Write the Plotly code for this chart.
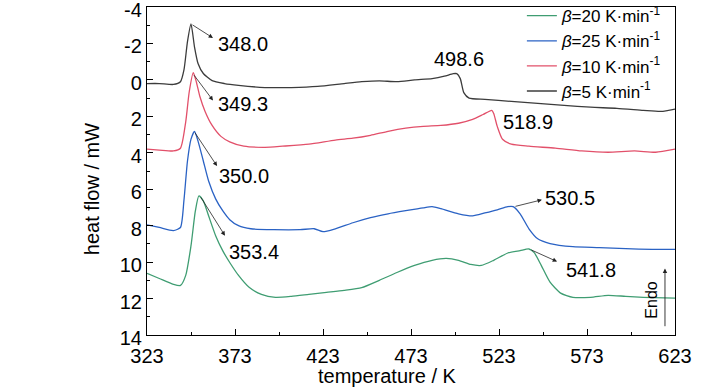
import plotly.graph_objects as go

# ---- data ----
t_b5 = [323, 330, 338, 342, 344, 346, 348, 350, 352, 355, 360, 367, 375, 390, 405, 420, 435, 445, 455, 465, 475,
        485, 492, 497, 499, 501, 503, 506, 515, 530, 545, 560, 575, 590, 605, 615, 623]
hf_b5 = [0.2, 0.2, 0.25, 0.1, -0.55, -2.1, -3.07, -1.8, -0.9, -0.35, 0.04, 0.2, 0.3, 0.42, 0.42, 0.36, 0.2, 0.1,
         0.05, 0.1, 0.0, -0.07, -0.2, -0.34, -0.34, -0.07, 0.7, 1.0, 1.07, 1.18, 1.29, 1.4, 1.5, 1.56, 1.67, 1.73, 1.6]

t_b10 = [323, 330, 338, 342, 345, 347, 349.3, 351, 353, 356, 360, 365, 370, 378, 390, 400, 415, 430, 440, 450, 460,
         470, 480, 490, 500, 508, 514, 518.9, 520, 522, 525, 530, 540, 555, 570, 585, 600, 612, 623]
hf_b10 = [3.8, 3.85, 3.9, 3.75, 2.3, 0.65, -0.4, 0.1, 0.9, 1.73, 2.5, 3.1, 3.4, 3.64, 3.7, 3.64, 3.53, 3.3, 3.2,
          3.04, 2.82, 2.65, 2.55, 2.5, 2.38, 2.17, 1.9, 1.67, 1.85, 2.55, 3.26, 3.53, 3.64, 3.75, 3.9, 3.97, 3.9, 3.97, 3.8]

t_b25 = [323, 330, 338, 342, 344, 346, 348, 350, 352, 355, 358, 362, 366, 370, 375, 382, 395, 410, 418, 423, 430,
         440, 450, 460, 470, 480, 485, 490, 500, 508, 515, 522, 528, 531, 535, 540, 545, 552, 565, 580, 595, 610, 623]
hf_b25 = [7.95, 8.1, 8.27, 8.1, 6.6, 4.45, 3.25, 2.82, 3.36, 4.45, 5.55, 6.53, 7.18, 7.67, 8.0, 8.17, 8.22, 8.22,
          8.17, 8.33, 8.17, 7.84, 7.56, 7.35, 7.18, 7.02, 6.96, 7.07, 7.35, 7.46, 7.3, 7.13, 6.96, 6.96, 7.35, 8.17,
          8.72, 8.98, 9.15, 9.2, 9.26, 9.3, 9.3]

t_b20 = [323, 330, 338, 342, 345, 348, 350.5, 352.5, 355, 358, 362, 366, 370, 375, 381, 388, 396, 405, 415, 425,
         435, 445, 455, 465, 475, 485, 493, 500, 507, 513, 520, 528, 535, 540, 543, 547, 552, 558, 565, 575, 585,
         595, 605, 623]
hf_b20 = [10.62, 10.9, 11.22, 11.28, 10.73, 9.1, 7.18, 6.37, 6.64, 7.46, 8.55, 9.37, 10.02, 10.73, 11.38, 11.77,
          11.93, 11.88, 11.77, 11.66, 11.55, 11.4, 11.0, 10.57, 10.18, 9.9, 9.8, 9.9, 10.13, 10.18, 9.9, 9.5, 9.37,
          9.28, 9.48, 10.18, 11.1, 11.7, 11.93, 11.93, 11.82, 11.88, 11.93, 11.98]

legend_names = ["<i>β</i>=20 K·min<sup>-1</sup>", "<i>β</i>=25 K·min<sup>-1</sup>",
                "<i>β</i>=10 K·min<sup>-1</sup>", "<i>β</i>=5 K·min<sup>-1</sup>"]
colors = ["#3f9d72", "#2a62c4", "#e2506a", "#3c3c3c"]

x_ticks = [323, 373, 423, 473, 523, 573, 623]
y_ticks = [-4, -2, 0, 2, 4, 6, 8, 10, 12, 14]
y_tick_text = ["-4", "-2", "0", "2", "4", "6", "8", "10", "12", "14"]

peak_labels = ["348.0", "349.3", "350.0", "353.4", "498.6", "518.9", "530.5", "541.8"]
label_x = [377.5, 377.5, 378.0, 383.8, 500.3, 539.5, 563.3, 575.3]
label_y = [-1.98, 1.35, 5.27, 9.42, -1.14, 2.33, 6.47, 10.46]
# arrows: (tail x, tail y) at peak -> (head x, head y) near label
arrow_tail_x = [348.0, 349.1, 349.7, 353.1, 531.5, 540.6]
arrow_tail_y = [-3.07, -0.34, 2.82, 6.37, 6.96, 9.3]
arrow_head_x = [360.5, 360.5, 362.8, 367.3, 547.4, 556.0]
arrow_head_y = [-2.3, 1.13, 4.73, 8.55, 6.58, 9.97]

FONT = "Liberation Sans, Arial, sans-serif"

fig = go.Figure()
series = [(t_b20, hf_b20), (t_b25, hf_b25), (t_b10, hf_b10), (t_b5, hf_b5)]
for (tx, hy), name, col in zip(series, legend_names, colors):
    fig.add_trace(go.Scatter(x=tx, y=hy, mode="lines", name=name,
                             line=dict(color=col, width=1.3, shape="spline", smoothing=0.6)))

for txt, xx, yy in zip(peak_labels, label_x, label_y):
    fig.add_annotation(x=xx, y=yy, xref="x", yref="y", text=txt, showarrow=False,
                       xanchor="center", yanchor="middle",
                       font=dict(family=FONT, size=20, color="black"))

for tx, ty, hx, hy in zip(arrow_tail_x, arrow_tail_y, arrow_head_x, arrow_head_y):
    fig.add_annotation(x=hx, y=hy, ax=tx, ay=ty, xref="x", yref="y", axref="x", ayref="y",
                       text="", showarrow=True, arrowhead=2, arrowsize=1.1, arrowwidth=0.8,
                       arrowcolor="#222222")

# Endo arrow
fig.add_annotation(x=617.3, y=10.35, ax=617.3, ay=13.6, xref="x", yref="y", axref="x", ayref="y",
                   text="", showarrow=True, arrowhead=2, arrowsize=1.0, arrowwidth=0.9, arrowcolor="#222222")
fig.add_annotation(x=0.956, y=0.107, xref="paper", yref="paper", text="Endo", textangle=-90,
                   xanchor="center", yanchor="middle",
                   showarrow=False, font=dict(family=FONT, size=16, color="black"))

# axis titles
fig.add_annotation(x=0.456, y=-0.125, xref="paper", yref="paper", text="temperature / K",
                   xanchor="center", yanchor="middle",
                   showarrow=False, font=dict(family=FONT, size=20, color="black"))
fig.add_annotation(x=-0.104, y=0.445, xref="paper", yref="paper", text="heat flow / mW", textangle=-90,
                   xanchor="center", yanchor="middle",
                   showarrow=False, font=dict(family=FONT, size=20, color="black"))

axis_common = dict(showline=True, linecolor="black", linewidth=1.2, mirror=True, showgrid=False,
                   zeroline=False, ticks="inside", ticklen=6, tickcolor="black",
                   ticklabeloverflow="allow",
                   tickfont=dict(family=FONT, size=20, color="black"))

fig.update_xaxes(range=[323, 623], tickmode="array", tickvals=x_ticks, ticklabelstandoff=3,
                 minor=dict(ticks="inside", ticklen=3, tick0=323, dtick=25, tickcolor="black", showgrid=False),
                 **axis_common)
fig.update_yaxes(range=[14, -4], tickmode="array", tickvals=y_ticks, ticktext=y_tick_text,
                 ticklabelshift=-3,
                 minor=dict(ticks="inside", ticklen=3, tick0=-4, dtick=1, tickcolor="black", showgrid=False),
                 **axis_common)

fig.update_layout(
    width=728, height=390,
    margin=dict(l=147, r=53, t=7, b=55, autoexpand=False),
    paper_bgcolor="white", plot_bgcolor="white",
    font=dict(family=FONT, size=20, color="black"),
    showlegend=True,
    legend=dict(x=0.71, y=1.027, xanchor="left", yanchor="top", bgcolor="rgba(0,0,0,0)",
                font=dict(family=FONT, size=17, color="black"), tracegroupgap=0,
                itemwidth=30),
)

fig.write_html("out.html", config={"displayModeBar": False},
               post_script="document.body.style.margin='0px';")
